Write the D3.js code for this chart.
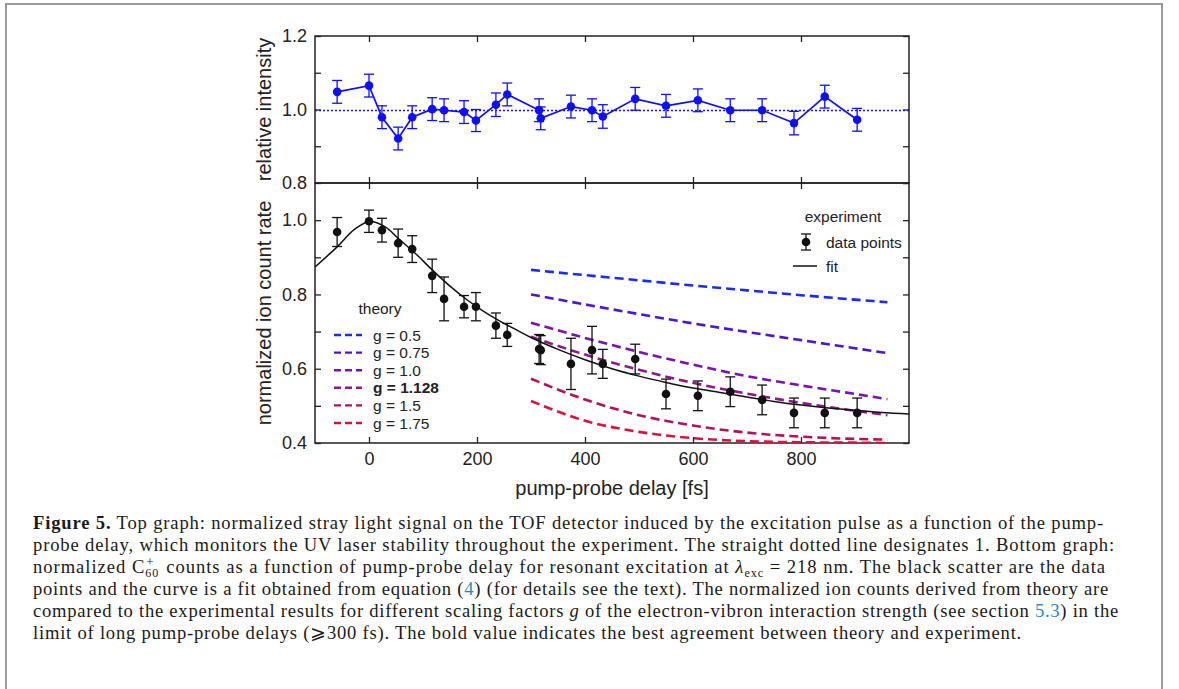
<!DOCTYPE html>
<html>
<head>
<meta charset="utf-8">
<script src="https://cdn.jsdelivr.net/npm/d3@7"></script>
<style>
  body { margin: 0; background: #fff; }
</style>
</head>
<body>
<div id="chart"></div>
<script>
const width = 1179;
const height = 689;
const sans = "Liberation Sans, Arial, sans-serif";
const serif = "Liberation Serif, Times New Roman, serif";

// pump-probe delays [fs] shared by both graphs
const delays = [-59, 0, 24, 54, 80, 117, 139, 176, 198, 235, 256, 315, 318, 374, 413, 433, 493, 550, 609, 669, 728, 787, 844, 904];
const xTicks = [0, 200, 400, 600, 800];

// top graph: stray light relative intensity
const stray = [1.048, 1.065, 0.979, 0.921, 0.979, 1.001, 0.998, 0.993, 0.970, 1.013, 1.041, 0.998, 0.976, 1.008, 0.998, 0.981, 1.029, 1.010, 1.025, 0.998, 0.998, 0.963, 1.035, 0.972];
const strayErr = [0.031, 0.031, 0.031, 0.031, 0.031, 0.031, 0.031, 0.031, 0.030, 0.032, 0.031, 0.031, 0.031, 0.031, 0.031, 0.032, 0.031, 0.031, 0.031, 0.031, 0.031, 0.032, 0.031, 0.031];
const topTicks = [0.8, 0.9, 1.0, 1.1, 1.2];

// bottom graph: normalized ion count rate
const ionRate = [0.968, 0.997, 0.973, 0.938, 0.922, 0.850, 0.788, 0.767, 0.767, 0.716, 0.691, 0.653, 0.650, 0.613, 0.650, 0.613, 0.626, 0.532, 0.527, 0.538, 0.516, 0.481, 0.481, 0.481];
const ionErr = [0.039, 0.030, 0.032, 0.038, 0.036, 0.045, 0.059, 0.030, 0.038, 0.034, 0.031, 0.039, 0.039, 0.069, 0.064, 0.039, 0.040, 0.040, 0.040, 0.040, 0.040, 0.040, 0.040, 0.040];
const bottomTicks = [0.4, 0.5, 0.6, 0.7, 0.8, 0.9, 1.0, 1.1];

// fit curve
const fitDelays = [-100, -59, -27, 0, 30, 54, 89, 117, 151, 182, 213, 244, 275, 300, 350, 400, 450, 500, 550, 600, 650, 700, 750, 800, 850, 900, 950, 1000];
const fitRate = [0.874, 0.928, 0.975, 0.996, 0.982, 0.951, 0.906, 0.866, 0.821, 0.785, 0.754, 0.727, 0.703, 0.684, 0.652, 0.624, 0.600, 0.580, 0.563, 0.548, 0.536, 0.524, 0.512, 0.502, 0.494, 0.488, 0.482, 0.478];

// theory curves for scaling factors g
const gLabels = ["g = 0.5", "g = 0.75", "g = 1.0", "g = 1.128", "g = 1.5", "g = 1.75"];
const theoryDelays = [300, 400, 500, 600, 700, 800, 900, 960];
const theoryG050 = [0.866, 0.852, 0.838, 0.824, 0.811, 0.798, 0.786, 0.779];
const theoryG075 = [0.800, 0.773, 0.747, 0.722, 0.699, 0.677, 0.655, 0.642];
const theoryG100 = [0.724, 0.683, 0.645, 0.611, 0.580, 0.555, 0.532, 0.518];
const theoryG1128 = [0.686, 0.638, 0.597, 0.562, 0.533, 0.508, 0.487, 0.475];
const theoryG150 = [0.573, 0.517, 0.475, 0.447, 0.428, 0.417, 0.411, 0.409];
const theoryG175 = [0.513, 0.460, 0.430, 0.413, 0.405, 0.402, 0.401, 0.400];
const theoryColors = ["#1a2cf5", "#4c17d2", "#7a12b4", "#8e1a86", "#b2125e", "#e0103c"];

const svg = d3.select("#chart")
  .append("svg")
  .attr("width", width)
  .attr("height", height)
  .style("font-family", sans);

// grey page frame
svg.append("rect")
  .attr("x", 6).attr("y", 4)
  .attr("width", 1156).attr("height", 720)
  .attr("fill", "none")
  .attr("stroke", "#9c9c9c")
  .attr("stroke-width", 2);

const plotLeft = 315, plotRight = 909;
const x = d3.scaleLinear().domain([-100, 1000]).range([plotLeft, plotRight]);
const yTop = d3.scaleLinear().domain([0.8, 1.2]).range([183, 36]);
const yBot = d3.scaleLinear().domain([0.4, 1.1]).range([443, 183]);

const fmtMajor = d => (Math.round(d * 10) % 2 === 0 ? d3.format(".1f")(d) : "");

const styleAxis = g => {
  g.select(".domain").remove();
  g.selectAll(".tick line").attr("stroke", "#222").attr("stroke-width", 1.3);
  g.selectAll(".tick text").attr("fill", "#222").attr("font-size", 18)
    .attr("font-family", sans);
};

// ---- top panel ----
svg.append("g").attr("transform", `translate(${plotLeft},0)`)
  .call(d3.axisLeft(yTop).tickValues(topTicks).tickSize(-6).tickPadding(8).tickFormat(fmtMajor))
  .call(styleAxis);
svg.append("g").attr("transform", `translate(${plotRight},0)`)
  .call(d3.axisRight(yTop).tickValues(topTicks).tickSize(-6).tickFormat(""))
  .call(styleAxis);
svg.append("g").attr("transform", `translate(0,${yTop(1.2)})`)
  .call(d3.axisTop(x).tickValues(xTicks).tickSize(-6).tickFormat(""))
  .call(styleAxis);
svg.append("g").attr("transform", `translate(0,${yTop(0.8)})`)
  .call(d3.axisBottom(x).tickValues(xTicks).tickSize(-6).tickFormat(""))
  .call(styleAxis);

svg.append("rect")
  .attr("x", plotLeft).attr("y", yTop(1.2))
  .attr("width", plotRight - plotLeft).attr("height", yTop(0.8) - yTop(1.2))
  .attr("fill", "none").attr("stroke", "#222").attr("stroke-width", 1.5);

const blue = "#1010f5";

// dotted reference line at 1
svg.append("line")
  .attr("x1", plotLeft).attr("x2", plotRight)
  .attr("y1", Math.round(yTop(1)) + 0.5).attr("y2", Math.round(yTop(1)) + 0.5)
  .attr("stroke", blue).attr("stroke-width", 1.4)
  .attr("stroke-dasharray", "2,2");

const strayData = delays.map((d, i) => ({ x: d, y: stray[i], e: strayErr[i] }));

svg.append("path")
  .datum(strayData)
  .attr("fill", "none").attr("stroke", blue).attr("stroke-width", 1.7)
  .attr("d", d3.line().x(d => x(d.x)).y(d => yTop(d.y)));

const drawErrors = (data, yScale, color, cap) => {
  const g = svg.append("g").attr("stroke", color).attr("stroke-width", 1.3);
  data.forEach(d => {
    const cx = x(d.x), y1 = yScale(d.y - d.e), y2 = yScale(d.y + d.e);
    g.append("line").attr("x1", cx).attr("x2", cx).attr("y1", y1).attr("y2", y2);
    g.append("line").attr("x1", cx - cap).attr("x2", cx + cap).attr("y1", y1).attr("y2", y1);
    g.append("line").attr("x1", cx - cap).attr("x2", cx + cap).attr("y1", y2).attr("y2", y2);
  });
};

drawErrors(strayData, yTop, blue, 5);

svg.append("g").selectAll("circle")
  .data(strayData).enter().append("circle")
  .attr("cx", d => x(d.x)).attr("cy", d => yTop(d.y))
  .attr("r", 4.3).attr("fill", blue);

svg.append("text")
  .attr("transform", `translate(271,${yTop(1.0)}) rotate(-90)`)
  .attr("text-anchor", "middle")
  .attr("font-size", 20).attr("fill", "#222")
  .text("relative intensity");

// ---- bottom panel ----
svg.append("g").attr("transform", `translate(${plotLeft},0)`)
  .call(d3.axisLeft(yBot).tickValues(bottomTicks.slice(0, 7)).tickSize(-6).tickPadding(8).tickFormat(fmtMajor))
  .call(styleAxis);
svg.append("g").attr("transform", `translate(${plotRight},0)`)
  .call(d3.axisRight(yBot).tickValues(bottomTicks).tickSize(-6).tickFormat(""))
  .call(styleAxis);
svg.append("g").attr("transform", `translate(0,${yBot(1.1)})`)
  .call(d3.axisTop(x).tickValues(xTicks).tickSize(-6).tickFormat(""))
  .call(styleAxis);
svg.append("g").attr("transform", `translate(0,${yBot(0.4)})`)
  .call(d3.axisBottom(x).tickValues(xTicks).tickSize(-6).tickPadding(9).tickFormat(d3.format("d")))
  .call(styleAxis);

svg.append("rect")
  .attr("x", plotLeft).attr("y", yBot(1.1))
  .attr("width", plotRight - plotLeft).attr("height", yBot(0.4) - yBot(1.1))
  .attr("fill", "none").attr("stroke", "#222").attr("stroke-width", 1.5);

svg.append("defs").append("clipPath").attr("id", "clipBot")
  .append("rect")
  .attr("x", plotLeft).attr("y", yBot(1.1))
  .attr("width", plotRight - plotLeft).attr("height", yBot(0.4) - yBot(1.1));

const theorySeries = [theoryG050, theoryG075, theoryG100, theoryG1128, theoryG150, theoryG175];
const curve = d3.line().curve(d3.curveMonotoneX);

theorySeries.forEach((vals, k) => {
  svg.append("path")
    .attr("clip-path", "url(#clipBot)")
    .datum(theoryDelays.map((d, i) => [x(d), yBot(vals[i])]))
    .attr("fill", "none")
    .attr("stroke", theoryColors[k])
    .attr("stroke-width", 2.6)
    .attr("stroke-dasharray", "9,5")
    .attr("d", curve);
});

svg.append("path")
  .attr("clip-path", "url(#clipBot)")
  .datum(fitDelays.map((d, i) => [x(d), yBot(fitRate[i])]))
  .attr("fill", "none").attr("stroke", "#111").attr("stroke-width", 1.5)
  .attr("d", d3.line().curve(d3.curveCatmullRom));

const ionData = delays.map((d, i) => ({ x: d, y: ionRate[i], e: ionErr[i] }));
drawErrors(ionData, yBot, "#111", 5);

svg.append("g").selectAll("circle")
  .data(ionData).enter().append("circle")
  .attr("cx", d => x(d.x)).attr("cy", d => yBot(d.y))
  .attr("r", 4.3).attr("fill", "#111");

svg.append("text")
  .attr("transform", `translate(271,${yBot(0.75)}) rotate(-90)`)
  .attr("text-anchor", "middle")
  .attr("font-size", 20).attr("fill", "#222")
  .text("normalized ion count rate");

svg.append("text")
  .attr("x", x(450)).attr("y", 495)
  .attr("text-anchor", "middle")
  .attr("font-size", 20).attr("fill", "#222")
  .text("pump-probe delay [fs]");

// theory legend
svg.append("text")
  .attr("x", 380).attr("y", 314)
  .attr("text-anchor", "middle")
  .attr("font-size", 15.5).attr("fill", "#222")
  .text("theory");

gLabels.forEach((lab, k) => {
  const ly = 335 + k * 17.6;
  svg.append("line")
    .attr("x1", 334).attr("x2", 362).attr("y1", ly).attr("y2", ly)
    .attr("stroke", theoryColors[k]).attr("stroke-width", 2.4)
    .attr("stroke-dasharray", "7,4");
  svg.append("text")
    .attr("x", 373).attr("y", ly + 5.5)
    .attr("font-size", 15.5).attr("fill", "#222")
    .attr("font-weight", lab === "g = 1.128" ? "bold" : "normal")
    .text(lab);
});

// experiment legend
svg.append("text")
  .attr("x", 843).attr("y", 222)
  .attr("text-anchor", "middle")
  .attr("font-size", 15.5).attr("fill", "#222")
  .text("experiment");

const lg = svg.append("g").attr("stroke", "#111").attr("stroke-width", 1.3);
lg.append("line").attr("x1", 806).attr("x2", 806).attr("y1", 234).attr("y2", 250);
lg.append("line").attr("x1", 801).attr("x2", 811).attr("y1", 234).attr("y2", 234);
lg.append("line").attr("x1", 801).attr("x2", 811).attr("y1", 250).attr("y2", 250);
svg.append("circle").attr("cx", 806).attr("cy", 242).attr("r", 4.3).attr("fill", "#111");
svg.append("text")
  .attr("x", 826).attr("y", 247.5)
  .attr("font-size", 15.5).attr("fill", "#222")
  .text("data points");
svg.append("line")
  .attr("x1", 793).attr("x2", 817).attr("y1", 266).attr("y2", 266)
  .attr("stroke", "#111").attr("stroke-width", 1.5);
svg.append("text")
  .attr("x", 826).attr("y", 271.5)
  .attr("font-size", 15.5).attr("fill", "#222")
  .text("fit");

// ---- caption ----
const linkBlue = "#2a8ac8";
const captionLines = [
  [{ t: "Figure 5.", w: "bold" }, { t: " Top graph: normalized stray light signal on the TOF detector induced by the excitation pulse as a function of the pump-" }],
  [{ t: "probe delay, which monitors the UV laser stability throughout the experiment. The straight dotted line designates 1. Bottom graph:" }],
  [{ t: "normalized C" }, { t: "60", size: 0.65, dy: 4 }, { t: "+", size: 0.7, dx: -13, dy: -11 }, { t: " counts as a function of pump-probe delay for resonant excitation at ", dx: 6, dy: 7 },
   { t: "λ", i: true }, { t: "exc", size: 0.65, dy: 4 }, { t: " = 218 nm. The black scatter are the data", dy: -4 }],
  [{ t: "points and the curve is a fit obtained from equation (" }, { t: "4", c: linkBlue }, { t: ") (for details see the text). The normalized ion counts derived from theory are" }],
  [{ t: "compared to the experimental results for different scaling factors " }, { t: "g", i: true }, { t: " of the electron-vibron interaction strength (see section " }, { t: "5.3", c: linkBlue }, { t: ") in the" }],
  [{ t: "limit of long pump-probe delays (⩾300 fs). The bold value indicates the best agreement between theory and experiment." }]
];
const captionRight = [1104, 1115, 1106, 1109, 1119, 1022];
const capSize = 18.6;

// each caption line is nudged to its measured width with letter spacing
captionLines.forEach((segs, li) => {
  const t = svg.append("text")
    .attr("x", 33).attr("y", 529 + li * 22)
    .attr("font-size", capSize).attr("fill", "#1a1a1a")
    .style("font-family", serif)
    .attr("xml:space", "preserve");
  segs.forEach(s => {
    const sp = t.append("tspan").text(s.t);
    if (s.w) sp.attr("font-weight", s.w);
    if (s.i) sp.attr("font-style", "italic");
    if (s.c) sp.attr("fill", s.c);
    if (s.size) sp.attr("font-size", s.size * capSize);
    if (s.dx) sp.attr("dx", s.dx);
    if (s.dy) sp.attr("dy", s.dy);
  });
  const chars = segs.map(s => s.t).join("").length;
  const w = t.node().getBBox().width;
  t.attr("letter-spacing", (captionRight[li] - 33 - w) / chars);
});
</script>
</body>
</html>
